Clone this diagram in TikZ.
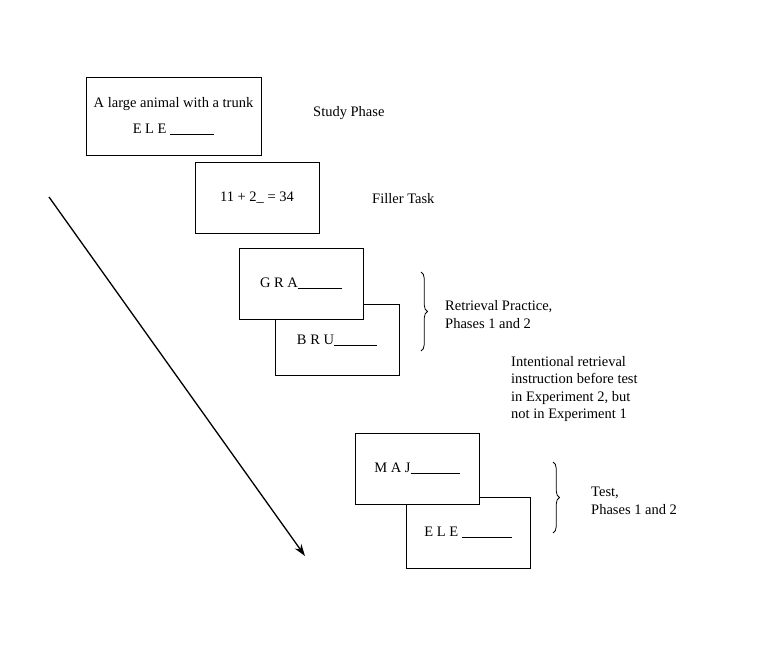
\documentclass[tikz,border=0pt]{standalone}
\usepackage{fontspec}
\setmainfont{Liberation Serif}
\usetikzlibrary{arrows.meta,decorations.pathreplacing}

\newcommand{\blank}[1]{\rule[-1.2pt]{#1}{0.5pt}}

\begin{document}
\begin{tikzpicture}[x=1pt, y=-1pt,
    every node/.style={font=\fontsize{14.5}{17.6}\selectfont},
    studybox/.style={draw, fill=white, line width=0.9pt,
                minimum width=175pt, minimum height=78pt,
                align=center, inner sep=0pt},
    card/.style={draw, fill=white, line width=0.9pt,
                minimum width=124pt, minimum height=71pt,
                inner sep=0pt},
    lbl/.style={anchor=west, align=left, inner sep=0pt},
    brc/.style={decorate, decoration={brace, amplitude=6.5pt},
                line width=0.8pt},
    arr/.style={-{Stealth[length=12pt,width=8pt]}, line width=1.3pt}]

    \useasboundingbox (0,0) rectangle (770,661);

    % Study and filler
    \node[studybox] (study) at (173.5,116)
        {A large animal with a trunk\\[9pt]E L E \blank{44pt}};
    \node[card] (filler) at (257,197.5) {11 + 2\_ = 34};

    % Retrieval practice cards
    \node[card] (bru) at (337,340) {B R U\blank{43pt}};
    \node[card] (gra) at (301,283.5) {G R A\blank{44pt}};

    % Test cards
    \node[card] (ele) at (468,532.5) {E L E \blank{50pt}};
    \node[card] (maj) at (417,468.5) {M A J\blank{49pt}};

    % Phase labels
    \node[lbl] (studylbl) at (313,113.5) {Study Phase};
    \node[lbl] (fillerlbl) at (372,198.5) {Filler Task};
    \node[lbl] (rplbl) at (445,314.5) {Retrieval Practice,\\Phases 1 and 2};
    \node[lbl] (instr) at (511,389) {Intentional retrieval\\instruction before test\\in Experiment 2, but\\not in Experiment 1};
    \node[lbl] (testlbl) at (591,501) {Test,\\Phases 1 and 2};

    % Braces
    \coordinate (rptop) at (421,272);
    \coordinate (rpbot) at (421,351);
    \coordinate (testtop) at (553,462);
    \coordinate (testbot) at (553,533);
    \draw[brc] (rptop) -- (rpbot);
    \draw[brc] (testtop) -- (testbot);

    % Time arrow
    \coordinate (tstart) at (49,197);
    \coordinate (tend) at (305,556);
    \draw[arr] (tstart) -- (tend);
\end{tikzpicture}
\end{document}
